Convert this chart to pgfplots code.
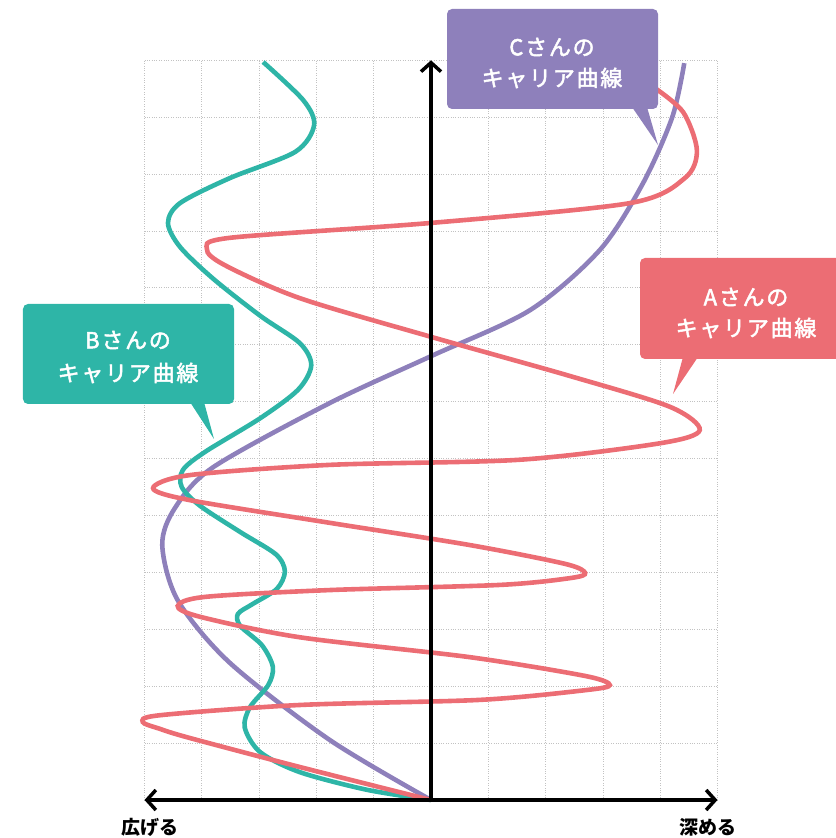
\documentclass[border=0pt]{standalone}
\usepackage{pgfplots}
\pgfplotsset{compat=1.18}
\usepackage{fontspec}
\usetikzlibrary{arrows.meta,calc}
\newfontfamily\cjk{Noto Sans CJK JP}
\newfontfamily\cjkbox[LetterSpace=8,FakeBold=2.2]{Noto Sans CJK JP}
\definecolor{cA}{RGB}{236,109,116}
\definecolor{cB}{RGB}{46,181,167}
\definecolor{cC}{RGB}{142,128,187}
\begin{document}
\begin{tikzpicture}
\begin{axis}[
  x=57.3bp, y=56.9bp,
  xmin=-5, xmax=5, ymin=0, ymax=13,
  axis line style={draw=none},
  xtick={-5,...,5}, ytick={0,...,13},
  xticklabels={}, yticklabels={},
  tick style={draw=none},
  grid=major,
  grid style={dotted, black!24, line width=0.8bp},
  clip=false,
]
  % C
  \addplot[cC, line width=4.6bp, smooth] coordinates {
    (0,0) (-1.76,1.05) (-3.51,2.41) (-4.42,3.51) (-4.69,4.48) (-4.47,5.13)
    (-3.80,5.85) (-1.76,6.98) (0,7.80) (1.73,8.61) (2.95,9.67) (3.70,10.84)
    (4.21,12.00) (4.42,12.95)
  };
  % B
  \addplot[cB, line width=4.6bp, smooth] coordinates {
    (0,0) (-1.12,0.18) (-2.29,0.49) (-2.98,0.84) (-3.25,1.27) (-3.16,1.63)
    (-2.84,2.02) (-2.76,2.34) (-2.95,2.72) (-3.33,3.06) (-3.37,3.27)
    (-3.12,3.44) (-2.69,3.71) (-2.55,4.02) (-2.71,4.32) (-3.33,4.71)
    (-4.03,5.17) (-4.35,5.50) (-4.33,5.80) (-3.94,6.12) (-2.98,6.71)
    (-2.32,7.21) (-2.09,7.64) (-2.29,8.03) (-2.98,8.51) (-3.80,9.16)
    (-4.38,9.72) (-4.59,10.14) (-4.38,10.49) (-3.51,10.93) (-2.37,11.39)
    (-2.04,11.86) (-2.23,12.30) (-2.93,12.97)
  };
  % A
  \addplot[cA, line width=4.6bp, smooth] coordinates {
    (0,0) (-2.29,0.58) (-4.21,1.09) (-4.73,1.25) (-5.03,1.37) (-4.73,1.49)
    (-2.29,1.67) (0.86,1.76) (2.69,1.93) (3.12,2.02) (2.69,2.18) (0.68,2.51)
    (-2.29,2.86) (-4.03,3.22) (-4.42,3.41) (-3.94,3.57) (-1.76,3.69)
    (1.20,3.78) (2.43,3.90) (2.69,3.99) (2.34,4.15) (0.68,4.48) (-1.76,4.87)
    (-4.21,5.27) (-4.85,5.48) (-4.21,5.71) (-1.76,5.89) (1.55,5.98)
    (4.00,6.27) (4.69,6.50) (4.17,6.91) (2.43,7.45) (0,8.14) (-2.29,8.82)
    (-3.60,9.40) (-3.91,9.68) (-3.51,9.88) (-0.02,10.14) (3.47,10.49)
    (4.43,10.93) (4.64,11.42) (4.40,12.09) (3.91,12.51)
  };
  \draw[line width=3.5bp, -{Straight Barb[length=9bp,width=20bp]}]
    (axis cs:0,0) -- (axis cs:0,13);
  \draw[line width=3.5bp, {Straight Barb[length=9bp,width=20bp]}-{Straight Barb[length=9bp,width=20bp]}]
    (axis cs:-5,0) -- (axis cs:5,0);
  \coordinate (O) at (axis cs:0,0);
\end{axis}
% callouts, in pixel units of the reference
\begin{scope}[x=1bp, y=-1bp, shift={(O)}, xshift=-431bp, yshift=800bp]
  \fill[cC, rounded corners=5bp] (447,9) rectangle (658,109);
  \fill[cC] (632,107) -- (658,145) -- (647,107) -- cycle;
  \node[text=white, font=\cjkbox\fontsize{22bp}{26bp}\selectfont] at (552,47) {Cさんの};
  \node[text=white, font=\cjkbox\fontsize{22bp}{26bp}\selectfont] at (552,78) {キャリア曲線};

  \fill[cA, rounded corners=5bp] (640,258) rectangle (852,359);
  \fill[cA] (683,357) -- (673,394) -- (698,357) -- cycle;
  \node[text=white, font=\cjkbox\fontsize{22bp}{26bp}\selectfont] at (746,297) {Aさんの};
  \node[text=white, font=\cjkbox\fontsize{22bp}{26bp}\selectfont] at (746,328) {キャリア曲線};

  \fill[cB, rounded corners=5bp] (23,304) rectangle (234,404);
  \fill[cB] (190,402) -- (214,439) -- (204,402) -- cycle;
  \node[text=white, font=\cjkbox\fontsize{22bp}{26bp}\selectfont] at (128,340) {Bさんの};
  \node[text=white, font=\cjkbox\fontsize{22bp}{26bp}\selectfont] at (128,373) {キャリア曲線};

  \node[font=\cjk\bfseries\fontsize{19bp}{22bp}\selectfont] at (150,827) {広げる};
  \node[font=\cjk\bfseries\fontsize{19bp}{22bp}\selectfont] at (708,827) {深める};

  \pgfresetboundingbox
  \useasboundingbox (0,0) rectangle (836,838);
\end{scope}
\end{tikzpicture}
\end{document}
